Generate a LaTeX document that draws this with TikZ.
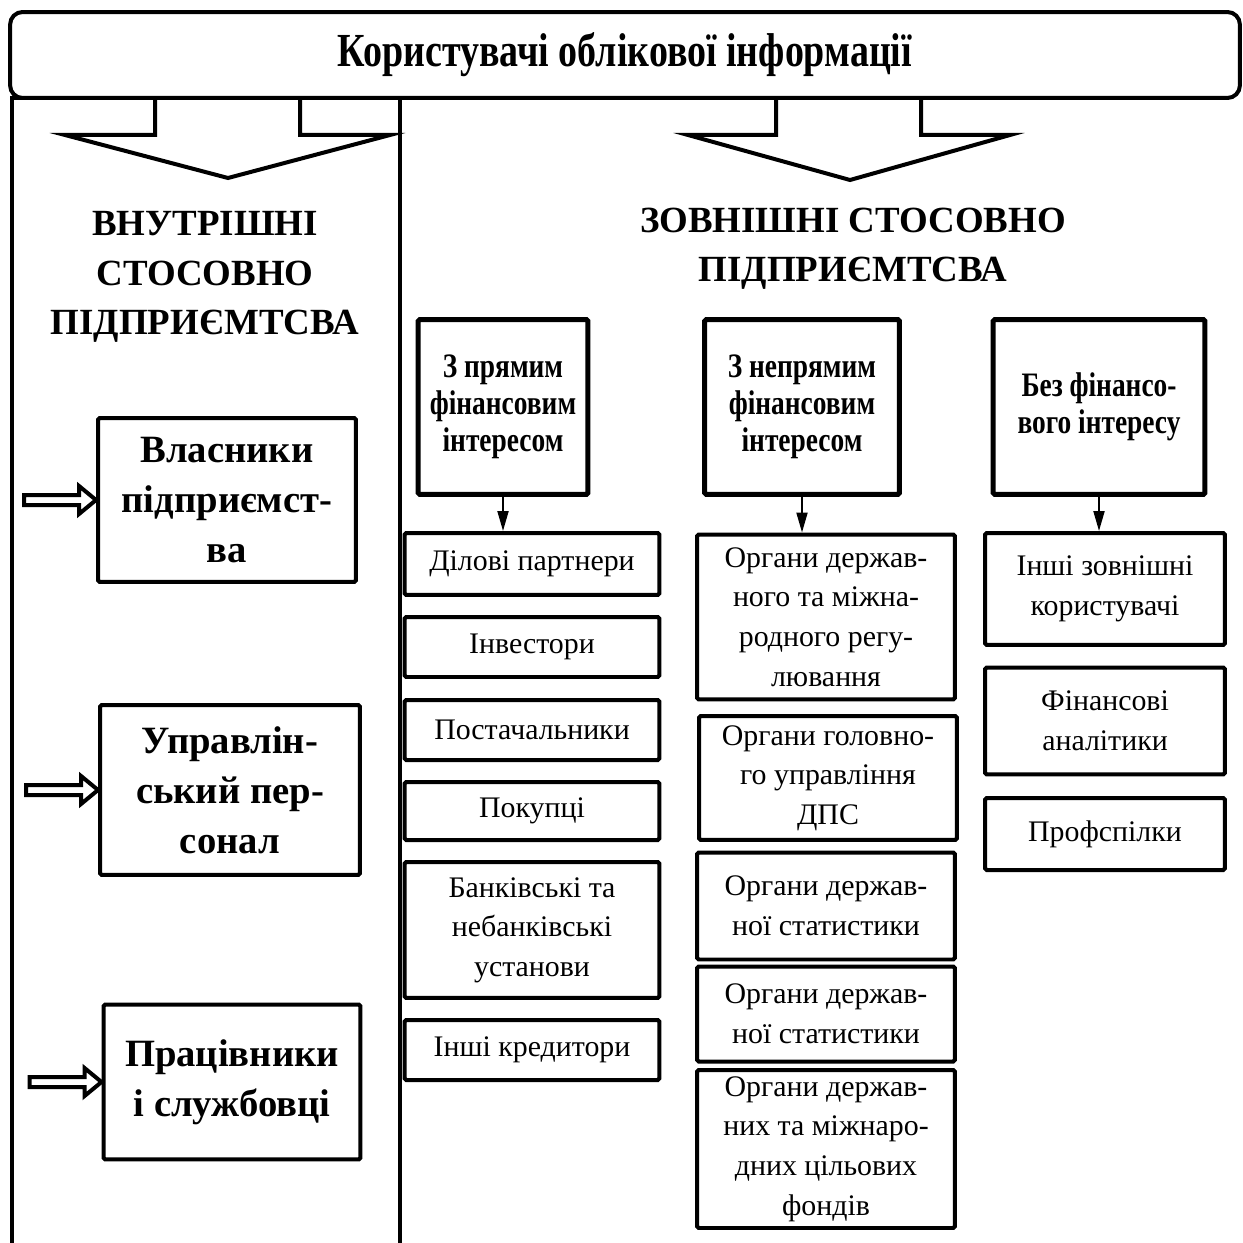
\documentclass[tikz,border=0pt]{standalone}
\usepackage{fontspec}
\setmainfont{Liberation Serif}
\newfontfamily\narrowserif[FakeStretch=0.8]{Liberation Serif}
\usetikzlibrary{arrows.meta,calc}

\tikzset{
  titlebox/.style={draw, line width=0.08cm, rounded corners=0.25cm, minimum width=24.6cm, minimum height=1.72cm, font=\narrowserif\bfseries\fontsize{27}{30}\selectfont},
  frameline/.style={line width=0.08cm},
  hollow/.style={line width=0.08cm, line join=miter},
  heading/.style={align=center, font=\bfseries\fontsize{21}{28}\selectfont},
  ownbox/.style={draw, line width=0.08cm, rounded corners=1pt, align=center, font=\bfseries\fontsize{22}{28.5}\selectfont},
  catbox/.style={draw, line width=0.1cm, rounded corners=1pt, align=center, minimum height=3.5cm, font=\narrowserif\bfseries\fontsize{19.5}{21}\selectfont},
  subbox/.style={draw, line width=0.08cm, rounded corners=1pt, align=center, font=\fontsize{17}{22.5}\selectfont},
  link/.style={line width=0.04cm, -{Triangle[length=0.4cm,width=0.22cm]}}
}

\newcommand{\sidearrow}[1]{%
  \draw[hollow] ($(#1.west)+(-72,-5)$) -- ++(55,0) -- ++(0,-9) -- (#1.west)
    -- ++(-17,14) -- ++(0,-9) -- ++(-55,0) -- cycle;}

\begin{document}
\begin{tikzpicture}[x=0.02cm,y=-0.02cm]
\useasboundingbox (0,0) rectangle (1242,1243);

% верхній блок
\node[titlebox] (users) at (625,55) {Користувачі облікової інформації};

% рамка та широкі стрілки
\draw[frameline] (12,1243) -- (12,98) -- (400,98) -- (400,1243);
\draw[hollow] (155,98) -- (155,135) -- (65,135) -- (228,178) -- (390,135) -- (300,135) -- (300,98);
\draw[hollow] (776,98) -- (776,135) -- (688,135) -- (850,180) -- (1010,135) -- (921,135) -- (921,98);

% заголовки
\node[heading] (inner) at (205,277) {ВНУТРІШНІ\\СТОСОВНО\\ПІДПРИЄМТСВА};
\node[heading] (outer) at (853,249) {ЗОВНІШНІ СТОСОВНО\\ПІДПРИЄМТСВА};

% внутрішні користувачі
\node[ownbox, minimum width=5.16cm, minimum height=3.28cm] (own) at (227,500) {Власники\\підприємст-\\ва};
\node[ownbox, minimum width=5.2cm, minimum height=3.4cm] (mgmt) at (230,790) {Управлін-\\ський пер-\\сонал};
\node[ownbox, minimum width=5.14cm, minimum height=3.1cm] (staff) at (232,1082) {Працівники\\і службовці};
\sidearrow{own}
\sidearrow{mgmt}
\sidearrow{staff}

% групи зовнішніх
\node[catbox, minimum width=3.4cm] (direct) at (503,407) {З прямим\\фінансовим\\інтересом};
\node[catbox, minimum width=3.9cm] (indirect) at (802,407) {З непрямим\\фінансовим\\інтересом};
\node[catbox, minimum width=4.24cm] (nofin) at (1099,407) {Без фінансо-\\вого інтересу};

% перша колонка
\node[subbox, minimum width=5.1cm, minimum height=1.24cm] (partners) at (532,564) {Ділові партнери};
\node[subbox, minimum width=5.1cm, minimum height=1.2cm] (investors) at (532,647) {Інвестори};
\node[subbox, minimum width=5.1cm, minimum height=1.2cm] (suppliers) at (532,730) {Постачальники};
\node[subbox, minimum width=5.1cm, minimum height=1.16cm] (buyers) at (532,811) {Покупці};
\node[subbox, minimum width=5.1cm, minimum height=2.72cm] (banks) at (532,930) {Банківські та\\небанківські\\установи};
\node[subbox, minimum width=5.1cm, minimum height=1.2cm] (creditors) at (532,1050) {Інші кредитори};

% друга колонка
\node[subbox, minimum width=5.16cm, minimum height=3.3cm] (regul) at (826,617) {Органи держав-\\ного та міжна-\\родного регу-\\лювання};
\node[subbox, minimum width=5.16cm, minimum height=2.48cm] (tax) at (828,778) {Органи головно-\\го управління\\ДПС};
\node[subbox, minimum width=5.16cm, minimum height=2.14cm] (stat) at (826,906) {Органи держав-\\ної статистики};
\node[subbox, minimum width=5.16cm, minimum height=1.9cm] (stattwo) at (826,1014) {Органи держав-\\ної статистики};
\node[subbox, minimum width=5.16cm, minimum height=3.16cm] (funds) at (826,1149) {Органи держав-\\них та міжнаро-\\дних цільових\\фондів};

% третя колонка
\node[subbox, minimum width=4.8cm, minimum height=2.24cm] (others) at (1105,589) {Інші зовнішні\\користувачі};
\node[subbox, minimum width=4.8cm, minimum height=2.14cm] (analysts) at (1105,721) {Фінансові\\аналітики};
\node[subbox, minimum width=4.8cm, minimum height=1.44cm] (unions) at (1105,834) {Профспілки};

% стрілки
\draw[link] (direct.south) -- (direct.south |- partners.north);
\draw[link] (indirect.south) -- (indirect.south |- regul.north);
\draw[link] (nofin.south) -- (nofin.south |- others.north);
\end{tikzpicture}
\end{document}
